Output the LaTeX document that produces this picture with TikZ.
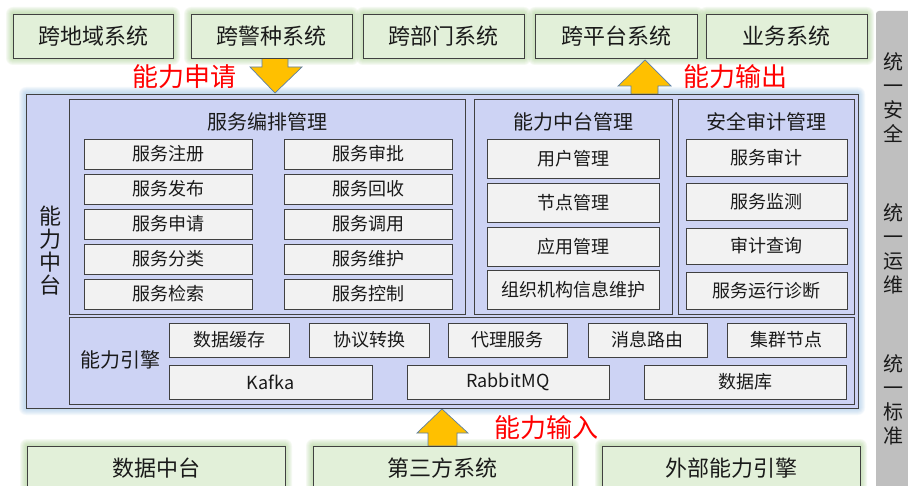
\documentclass[tikz,border=0pt]{standalone}
\usepackage{fontspec}
\setmainfont{Noto Sans CJK SC}
\definecolor{txt}{HTML}{1A1A1A}
\definecolor{edge}{HTML}{404040}
\definecolor{greenfill}{HTML}{E2F0D9}
\definecolor{greenglow}{HTML}{A9D08E}
\definecolor{blueglow}{HTML}{9DC3E6}
\definecolor{panelfill}{HTML}{CDD3F4}
\definecolor{boxfill}{HTML}{F2F2F2}
\definecolor{barfill}{HTML}{BFBFBF}
\definecolor{arrowfill}{HTML}{FFC000}
\definecolor{arrowedge}{HTML}{5B7FA6}
\definecolor{redtxt}{HTML}{FF0000}
\newcommand\bx[7]{\node[#6, minimum width={(#4)-(#2)}, minimum height={(#5)-(#3)}] (#1) at ({((#2)+(#4))/2},{((#3)+(#5))/2}) {#7};}
\newcommand\glowbox[5]{\foreach \k in {1,...,7} {\fill[#5, opacity=0.11, rounded corners=\k pt] ({#1-\k},{#2-\k}) rectangle ({#3+\k},{#4+\k});}}
\tikzset{
  base/.style={inner sep=0pt, outer sep=0pt, text=txt},
  sysbox/.style={base, draw=edge, fill=greenfill, line width=0.8pt, font=\fontsize{22}{24}\selectfont},
  mainbox/.style={base, draw=edge, fill=panelfill, line width=0.8pt},
  panel/.style={base, draw=edge, fill=panelfill, line width=0.7pt},
  sbox/.style={base, draw=edge, fill=boxfill, line width=0.7pt, font=\fontsize{18}{20}\selectfont},
  title/.style={base, font=\fontsize{20}{22}\selectfont},
  redlabel/.style={base, text=redtxt, font=\fontsize{26}{28}\selectfont},
  vert/.style={base, align=center},
  bigarrow/.style={fill=arrowfill, draw=arrowedge, line width=0.7pt, line join=miter}
}
\begin{document}
\begin{tikzpicture}[x=1pt,y=-1pt]
\useasboundingbox (0,0) rectangle (908,486);
\fill[white] (0,0) rectangle (908,486);
% right bar
\fill[barfill, rounded corners=3pt] (876,11) rectangle (915,495);
\node[vert, font=\fontsize{20}{24}\selectfont] (sec) at (893,97.5) {统\\一\\安\\全};
\node[vert, font=\fontsize{20}{24}\selectfont] (ops) at (893,249) {统\\一\\运\\维};
\node[vert, font=\fontsize{20}{24}\selectfont] (std) at (893,399.5) {统\\一\\标\\准};
% glows
\glowbox{13}{14}{173}{58}{greenglow}
\glowbox{191}{14}{352}{58}{greenglow}
\glowbox{363}{14}{524}{58}{greenglow}
\glowbox{535}{14}{697}{58}{greenglow}
\glowbox{706}{14}{867}{58}{greenglow}
\glowbox{27}{446}{285}{495}{greenglow}
\glowbox{313}{446}{572}{495}{greenglow}
\glowbox{602}{446}{860}{495}{greenglow}
\glowbox{26}{94}{858}{408}{blueglow}
% arrows
\draw[bigarrow] (262,58)--(288,58)--(288,67)--(302,67)--(275,93)--(250,67)--(262,67)--cycle;
\draw[bigarrow] (645,60)--(671,86)--(658,86)--(658,94)--(631,94)--(631,86)--(618,86)--cycle;
\draw[bigarrow] (442,409)--(468,433)--(457,433)--(457,446)--(428,446)--(428,433)--(417,433)--cycle;
% top systems
\bx{tA}{13}{14}{173}{58}{sysbox}{跨地域系统}
\bx{tB}{191}{14}{352}{58}{sysbox}{跨警种系统}
\bx{tC}{363}{14}{524}{58}{sysbox}{跨部门系统}
\bx{tD}{535}{14}{697}{58}{sysbox}{跨平台系统}
\bx{tE}{706}{14}{867}{58}{sysbox}{业务系统}
% red labels
\node[redlabel] (apply) at (184.5,77) {能力申请};
\node[redlabel] (out) at (735.5,77) {能力输出};
\node[redlabel] (in) at (546,428) {能力输入};
% main platform
\bx{main}{26}{94}{858}{408}{mainbox}{}
\node[vert, font=\fontsize{22}{23}\selectfont] (mainlbl) at (50,251) {能\\力\\中\\台};
% panel 1
\bx{p1}{69}{99}{465}{314}{panel}{}
\node[title] (p1t) at (267,122) {服务编排管理};
\bx{a1}{84}{139}{252}{169}{sbox}{服务注册}
\bx{a2}{84}{174}{252}{204}{sbox}{服务发布}
\bx{a3}{84}{209}{252}{239}{sbox}{服务申请}
\bx{a4}{84}{244}{252}{274}{sbox}{服务分类}
\bx{a5}{84}{279}{252}{309}{sbox}{服务检索}
\bx{b1}{284}{139}{452}{169}{sbox}{服务审批}
\bx{b2}{284}{174}{452}{204}{sbox}{服务回收}
\bx{b3}{284}{209}{452}{239}{sbox}{服务调用}
\bx{b4}{284}{244}{452}{274}{sbox}{服务维护}
\bx{b5}{284}{279}{452}{309}{sbox}{服务控制}
% panel 2
\bx{p2}{474}{99}{672}{314}{panel}{}
\node[title] (p2t) at (573,122) {能力中台管理};
\bx{c1}{487}{139}{659}{178}{sbox}{用户管理}
\bx{c2}{487}{183}{659}{222}{sbox}{节点管理}
\bx{c3}{487}{227}{659}{266}{sbox}{应用管理}
\bx{c4}{487}{270}{659}{309}{sbox}{组织机构信息维护}
% panel 3
\bx{p3}{678}{99}{854}{314}{panel}{}
\node[title] (p3t) at (766,122) {安全审计管理};
\bx{d1}{686}{139}{847}{176}{sbox}{服务审计}
\bx{d2}{686}{183}{847}{220}{sbox}{服务监测}
\bx{d3}{686}{228}{847}{264}{sbox}{审计查询}
\bx{d4}{686}{272}{847}{309}{sbox}{服务运行诊断}
% engine panel
\bx{p4}{69}{317}{854}{404}{panel}{}
\node[title] (p4t) at (120,360) {能力引擎};
\bx{e1}{169}{323}{289}{357}{sbox}{数据缓存}
\bx{e2}{309}{323}{429}{357}{sbox}{协议转换}
\bx{e3}{448}{323}{567}{357}{sbox}{代理服务}
\bx{e4}{588}{323}{707}{357}{sbox}{消息路由}
\bx{e5}{727}{323}{846}{357}{sbox}{集群节点}
\bx{f1}{169}{365}{372}{399}{sbox}{Kafka}
\bx{f2}{407}{365}{609}{399}{sbox}{RabbitMQ}
\bx{f3}{644}{365}{846}{399}{sbox}{数据库}
% bottom systems
\bx{sA}{27}{446}{285}{495}{sysbox}{}
\bx{sB}{313}{446}{572}{495}{sysbox}{}
\bx{sC}{602}{446}{860}{495}{sysbox}{}
\node[base, font=\fontsize{22}{24}\selectfont] (sAt) at (156,468) {数据中台};
\node[base, font=\fontsize{22}{24}\selectfont] (sBt) at (442.5,468) {第三方系统};
\node[base, font=\fontsize{22}{24}\selectfont] (sCt) at (731,468) {外部能力引擎};
\end{tikzpicture}
\end{document}
